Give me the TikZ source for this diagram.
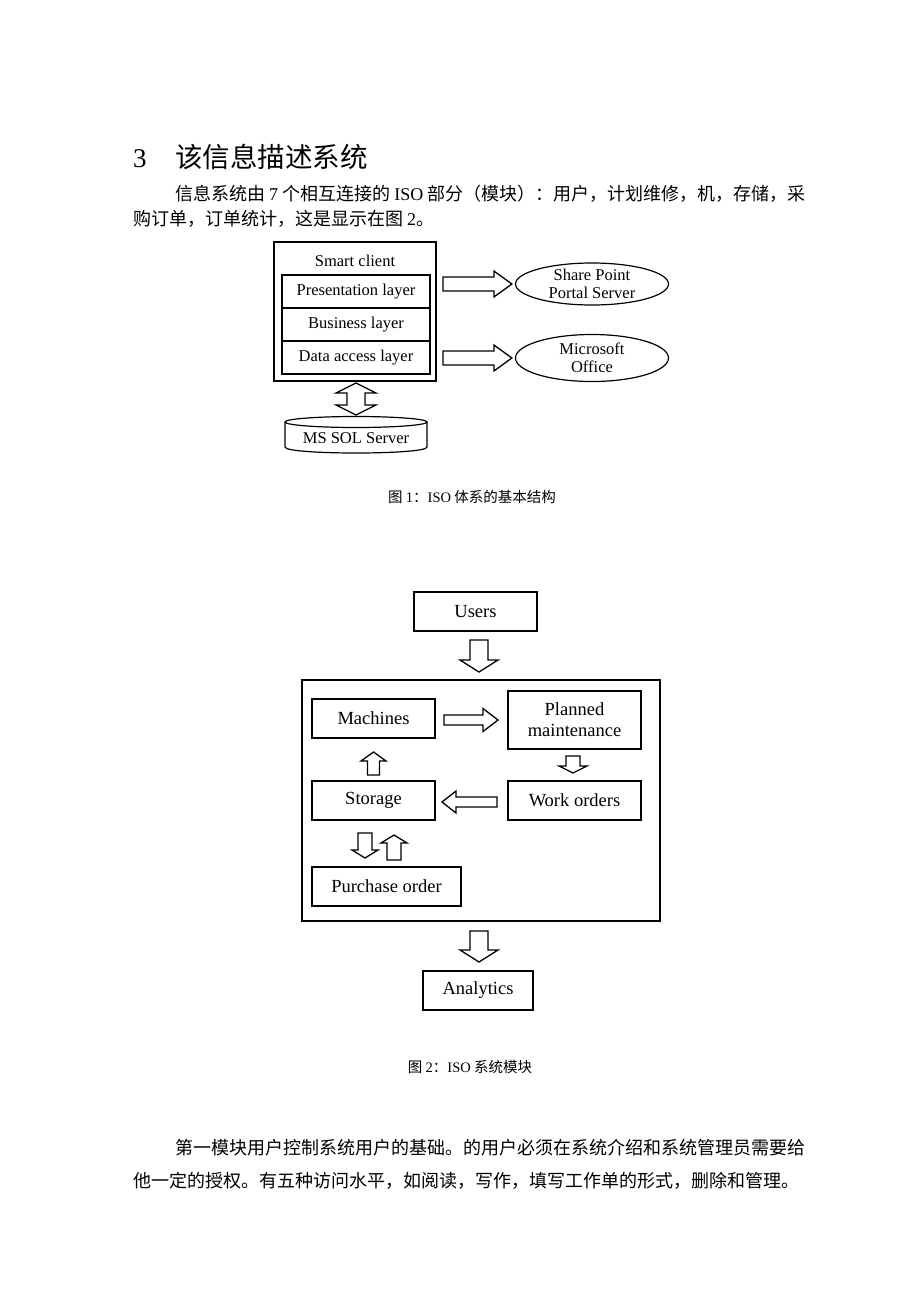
\documentclass[tikz,border=0pt]{standalone}
\usepackage{fontspec}
\setmainfont{Liberation Serif}
\newfontfamily\cjk{Noto Sans CJK SC}
\usetikzlibrary{calc,positioning,shapes.geometric}

\tikzset{
  body/.style={font=\fontsize{18}{22}\selectfont\cjk, anchor=base west, inner sep=0pt},
  capt/.style={font=\fontsize{14.5}{17}\selectfont\cjk, anchor=base, inner sep=0pt},
  frame/.style={draw, line width=2pt, inner sep=0pt, outer sep=0pt},
  layer/.style={draw, line width=1.6pt, minimum width=148, minimum height=33, inner sep=0pt, outer sep=0pt, font=\fontsize{16.5}{18}\selectfont},
  oval/.style={draw, ellipse, line width=1.2pt, minimum width=153, inner sep=0pt, align=center, font=\fontsize{16.5}{18}\selectfont},
  module/.style={draw, line width=1.6pt, minimum height=39, inner sep=0pt, outer sep=0pt, align=center, font=\fontsize{18.5}{21}\selectfont},
  blockline/.style={draw, line width=1.3pt, fill=white, line join=miter}
}

% hollow arrow: start, end, shaft half width, head half width, head length
\newcommand{\fatarrow}[5]{%
  \coordinate (fahead) at ($(#2)!#5pt!(#1)$);
  \draw[blockline] ($(#1)!#3pt!90:(#2)$) -- ($(fahead)!#3pt!90:(#2)$)
    -- ($(fahead)!#4pt!90:(#2)$) -- (#2) -- ($(fahead)!#4pt!-90:(#2)$)
    -- ($(fahead)!#3pt!-90:(#2)$) -- ($(#1)!#3pt!-90:(#2)$) -- cycle;
}
% hollow arrow with two heads
\newcommand{\fatdarrow}[5]{%
  \coordinate (fahone) at ($(#1)!#5pt!(#2)$);
  \coordinate (fahtwo) at ($(#2)!#5pt!(#1)$);
  \draw[blockline] (#1) -- ($(fahone)!#4pt!90:(#2)$) -- ($(fahone)!#3pt!90:(#2)$)
    -- ($(fahtwo)!#3pt!90:(#2)$) -- ($(fahtwo)!#4pt!90:(#2)$) -- (#2)
    -- ($(fahtwo)!#4pt!-90:(#2)$) -- ($(fahtwo)!#3pt!-90:(#2)$)
    -- ($(fahone)!#3pt!-90:(#2)$) -- ($(fahone)!#4pt!-90:(#2)$) -- cycle;
}

\begin{document}
\begin{tikzpicture}[x=1pt, y=-1pt]
        \useasboundingbox[fill=white] (0,0) rectangle (920,1302);

        % heading and text
        \node[body, font=\fontsize{27}{30}\selectfont] (secno) at (133,167) {3};
        \node[body, font=\fontsize{27.5}{30}\selectfont\cjk] (sectitle) at (175,167) {该信息描述系统};
        \node[body] (pa) at (175,200) {信息系统由 {\rmfamily 7} 个相互连接的 {\rmfamily ISO} 部分（模块）：用户，计划维修，机，存储，采};
        \node[body] (pb) at (133,225) {购订单，订单统计，这是显示在图 {\rmfamily 2}。};

        % figure 1
        \node[frame, minimum width=162, minimum height=139] (client) at (355,311.5) {};
        \node[font=\fontsize{16.5}{18}\selectfont] (sc) at (355,261) {Smart client};
        \node[layer] (pres) at (356,291.5) {Presentation layer};
        \node[layer, below=0pt of pres] (bus) {Business layer};
        \node[layer, below=0pt of bus] (dal) {Data access layer};
        \node[oval, minimum height=42] (sp) at (592,284) {Share Point\\Portal Server};
        \node[oval, minimum height=47] (mso) at (592,358) {Microsoft\\Office};
        \node[font=\fontsize{16.5}{18}\selectfont] (sql) at (356,438) {MS SOL Server};
        \draw[line width=1.2pt] (356,422) ellipse [x radius=71, y radius=5.5];
        \draw[line width=1.2pt] (285,422) -- (285,447) .. controls (285,455) and (427,455) .. (427,447) -- (427,422);
        \coordinate (dbtop) at (356,415);
        \coordinate (a1s) at ($(client.east |- sp)+(7,0)$);
        \coordinate (a1e) at ($(sp.west)+(-3,0)$);
        \coordinate (a2s) at ($(client.east |- mso)+(7,0)$);
        \coordinate (a2e) at ($(mso.west)+(-3,0)$);
        \fatarrow{a1s}{a1e}{7}{13}{18}
        \fatarrow{a2s}{a2e}{7}{13}{18}
        \fatdarrow{$(client.south)+(1,2)$}{dbtop}{9}{20}{10}
        \node[capt] (cap1) at (472,502) {图 {\rmfamily 1}：{\rmfamily ISO} 体系的基本结构};

        % figure 2
        \node[module, minimum width=123] (users) at (475.5,611.5) {Users};
        \node[frame, minimum width=358, minimum height=241] (sys) at (481,800.5) {};
        \node[module, minimum width=123] (mach) at (373.5,718.5) {Machines};
        \node[module, minimum width=133, minimum height=58] (plan) at (574.5,720) {Planned\\maintenance};
        \node[module, minimum width=133] (work) at (574.5,800.5) {Work orders};
        \node[module, minimum width=123] (stor) at (373.5,800.5) {Storage};
        \node[module, minimum width=149] (purch) at (386.5,886.5) {Purchase order};
        \node[module, minimum width=110] (anal) at (478,990.5) {Analytics};
        \fatarrow{$(users.south)+(3.5,9)$}{$(users.south |- sys.north)+(3.5,-8)$}{9}{19}{12}
        \fatarrow{$(mach.east)+(9,1.5)$}{$(plan.west |- mach.east)+(-10,1.5)$}{5}{11.5}{15}
        \fatarrow{$(plan.south)+(-1.5,7)$}{$(work.north)+(-1.5,-8)$}{7}{14}{7}
        \fatarrow{$(work.west)+(-11,1.5)$}{$(stor.east)+(7,1.5)$}{5}{11}{14}
        \fatarrow{$(stor.north)+(0,-6)$}{$(mach.south)+(0,14)$}{6}{12.5}{9}
        \fatarrow{$(stor.south)+(-8.5,13)$}{$(stor.south |- purch.north)+(-8.5,-9)$}{7}{13}{8}
        \fatarrow{$(stor.south |- purch.north)+(20.5,-7)$}{$(stor.south)+(20.5,15)$}{7}{13}{8}
        \fatarrow{$(sys.south)+(-2,10)$}{$(anal.north)+(1,-9)$}{9}{19}{12}
        \node[capt] (cap2) at (470,1072) {图 {\rmfamily 2}：{\rmfamily ISO} 系统模块};

        % closing text
        \node[body] (pc) at (175,1154) {第一模块用户控制系统用户的基础。的用户必须在系统介绍和系统管理员需要给};
        \node[body] (pd) at (133,1187) {他一定的授权。有五种访问水平，如阅读，写作，填写工作单的形式，删除和管理。};
        \end{tikzpicture}
\end{document}
